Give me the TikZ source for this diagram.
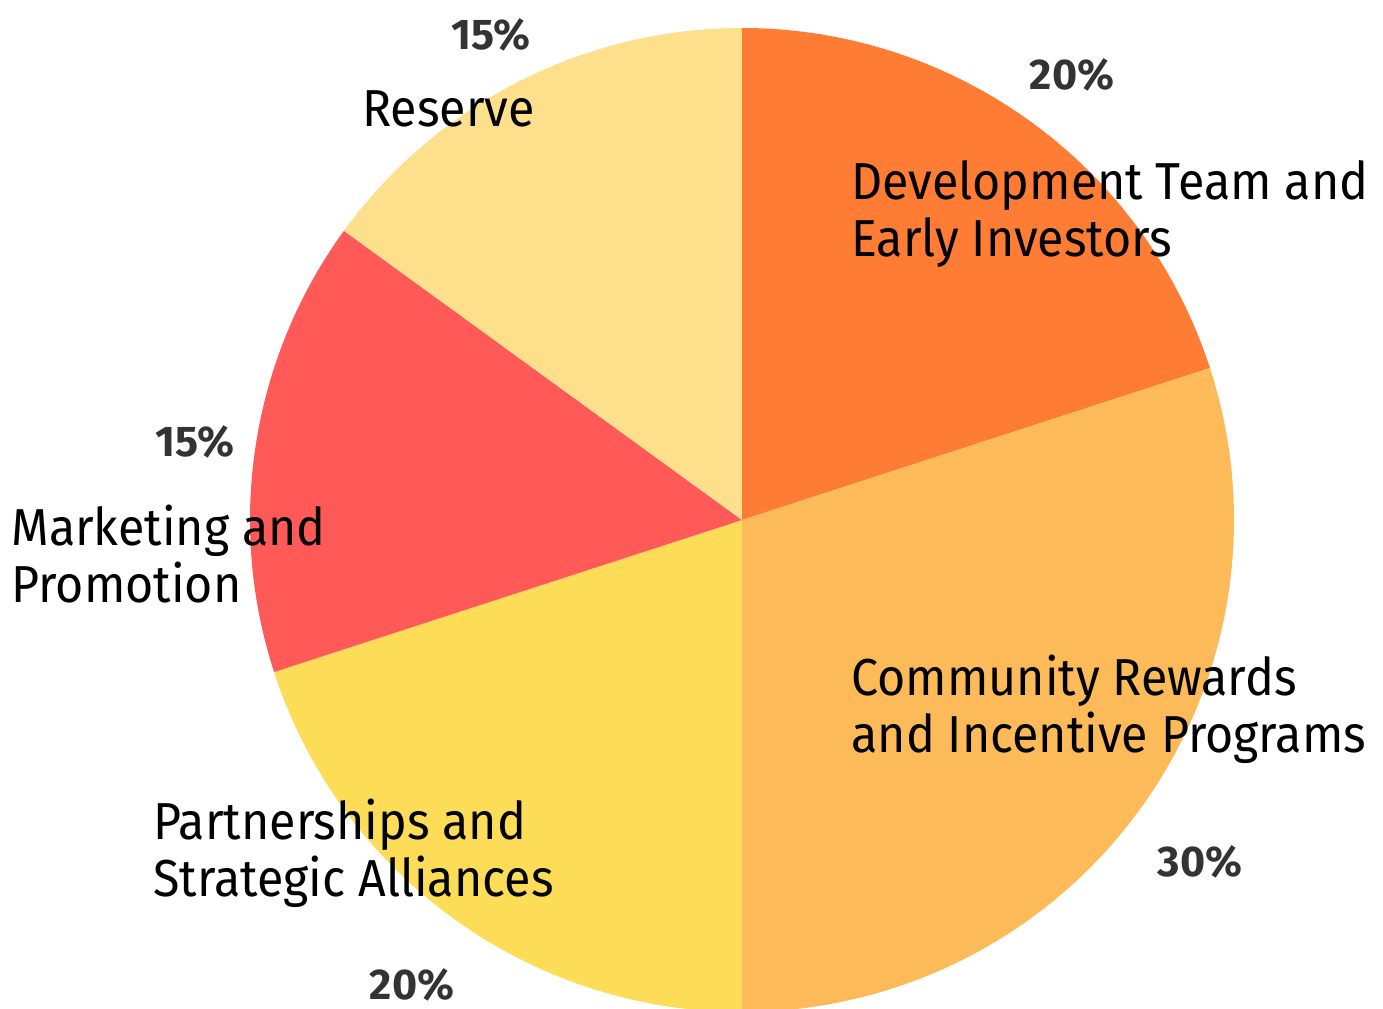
\documentclass[tikz,border=0pt]{standalone}
\usepackage{fontspec}
\setmainfont{Fira Sans}[FakeStretch=0.93]
\newfontfamily\pctfont{Fira Sans}
\definecolor{devorange}{HTML}{FF7C35}
\definecolor{commorange}{HTML}{FDBA58}
\definecolor{partyellow}{HTML}{FDDC57}
\definecolor{markred}{HTML}{FF5A57}
\definecolor{reserveyellow}{HTML}{FDDF8C}
\definecolor{pctgray}{HTML}{333333}
\tikzset{
    slicename/.style={anchor=west, inner sep=0pt, align=left, text=black,
        font=\fontsize{26}{28.5}\selectfont},
    pct/.style={inner sep=0pt, text=pctgray, font=\pctfont\fontsize{21.5}{24}\selectfont\bfseries}
}
\begin{document}
\begin{tikzpicture}[x=0.5pt, y=0.5pt]
        \useasboundingbox (-742, -488) rectangle (641, 520);

        \fill[devorange] (0, 0) -- (90:492) arc[start angle=90, end angle=18, radius=492] -- cycle;
        \fill[commorange] (0, 0) -- (18:492) arc[start angle=18, end angle=-90, radius=492] -- cycle;
        \fill[partyellow] (0, 0) -- (-90:492) arc[start angle=-90, end angle=-162, radius=492] -- cycle;
        \fill[markred] (0, 0) -- (-162:492) arc[start angle=-162, end angle=-216, radius=492] -- cycle;
        \fill[reserveyellow] (0, 0) -- (144:492) arc[start angle=144, end angle=90, radius=492] -- cycle;

        \node[slicename] (dev) at (109, 306) {Development Team and\\Early Investors};
        \node[slicename] (comm) at (109, -189) {Community Rewards\\and Incentive Programs};
        \node[slicename] (part) at (-589, -333) {Partnerships and\\Strategic Alliances};
        \node[slicename] (mark) at (-731, -34) {Marketing and\\Promotion};
        \node[slicename] (res) at (-380, 411) {Reserve};

        \node[pct] (devpct) at (330, 445) {20\%};
        \node[pct] (commpct) at (458, -342) {30\%};
        \node[pct] (partpct) at (-330, -465) {20\%};
        \node[pct] (markpct) at (-547, 78) {15\%};
        \node[pct] (respct) at (-251, 485) {15\%};
    \end{tikzpicture}
\end{document}
